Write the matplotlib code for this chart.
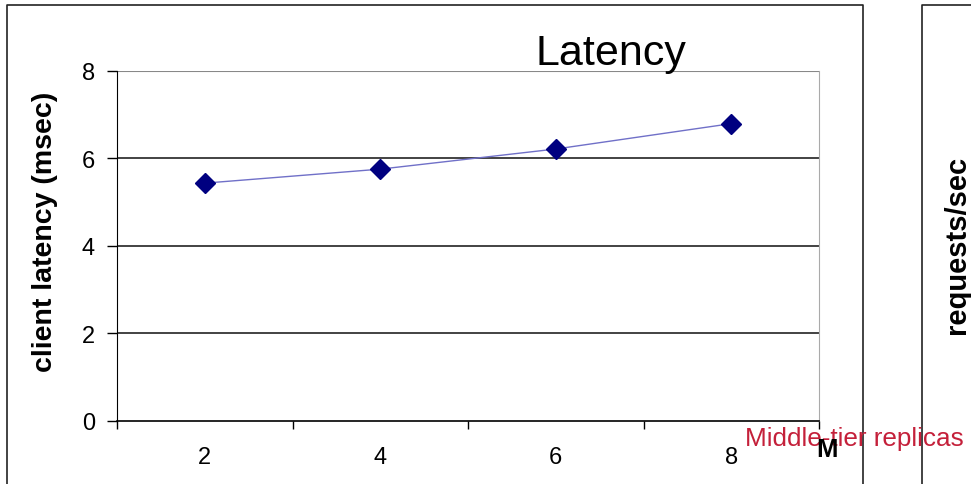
import matplotlib
matplotlib.use("Agg")
import matplotlib.pyplot as plt
from matplotlib.lines import Line2D

plt.rcParams['font.family'] = ['Liberation Sans', 'DejaVu Sans']

categories = ["2", "4", "6", "8"]
latency = [5.43, 5.75, 6.21, 6.79]
yticks = [0, 2, 4, 6, 8]

W, H = 971, 485
fig = plt.figure(figsize=(W / 100, H / 100), dpi=100)

def fx(px):
    return px / W

def fy(py):
    return 1 - py / H

# panel borders
fig.add_artist(Line2D([fx(7), fx(7), fx(863), fx(863)], [0, fy(6), fy(6), 0],
                      transform=fig.transFigure, color='#222222', lw=1.2))
fig.add_artist(Line2D([fx(922), fx(922), 1], [0, fy(6), fy(6)],
                      transform=fig.transFigure, color='#222222', lw=1.2))

ax = fig.add_axes([fx(117), fy(421.7), fx(819) - fx(117), fy(71.7) - fy(421.7)])
x = list(range(len(categories)))
ax.plot(x, latency, color='#7070c8', lw=1.0, zorder=3)
ax.plot(x, latency, linestyle='none', marker='D', markersize=10,
        color='#000080', zorder=4)

ax.set_xlim(-0.5, len(categories) - 0.5)
ax.set_ylim(0, 8)
ax.set_yticks(yticks)
ax.set_yticklabels([str(v) for v in yticks], fontsize=17)
ax.set_xticks([i - 0.5 for i in range(len(categories) + 1)])
ax.set_xticklabels([])
ax.set_xticks(x, minor=True)
ax.set_xticklabels(categories, minor=True, fontsize=17)
ax.tick_params(axis='x', which='minor', length=0, pad=18)
ax.tick_params(axis='x', which='major', length=6, width=1, color='black', direction='out')
ax.tick_params(axis='y', length=7, width=1, color='black', direction='out', pad=9)

for v in [2, 4, 6]:
    ax.axhline(v, color='#222222', lw=1.2, zorder=1)
ax.axhline(8, color='#888888', lw=1.5, zorder=1)

ax.spines['top'].set_visible(False)
ax.spines['right'].set_color('#aaaaaa')
ax.spines['left'].set_color('black')
ax.spines['bottom'].set_color('black')
ax.spines['bottom'].set_linewidth(1.2)

fig.text(fx(45), fy(232), "client latency (msec)", fontsize=20.5, fontweight='bold',
         rotation=90, ha='center', va='center')

fig.text(fx(611), fy(54), "Latency", fontsize=31, ha='center', va='center')
fig.text(fx(745), fy(446), "Middle-tier replicas", fontsize=18.8, color='#c4203a',
         ha='left', va='baseline', zorder=5)
fig.text(fx(827), fy(450), "M", fontsize=18.5, fontweight='bold', ha='center',
         va='center', zorder=6)
fig.text(fx(957), fy(245), "requests/sec", fontsize=21, fontweight='bold',
         rotation=90, ha='center', va='center')

fig.savefig("out.png", dpi=100)
